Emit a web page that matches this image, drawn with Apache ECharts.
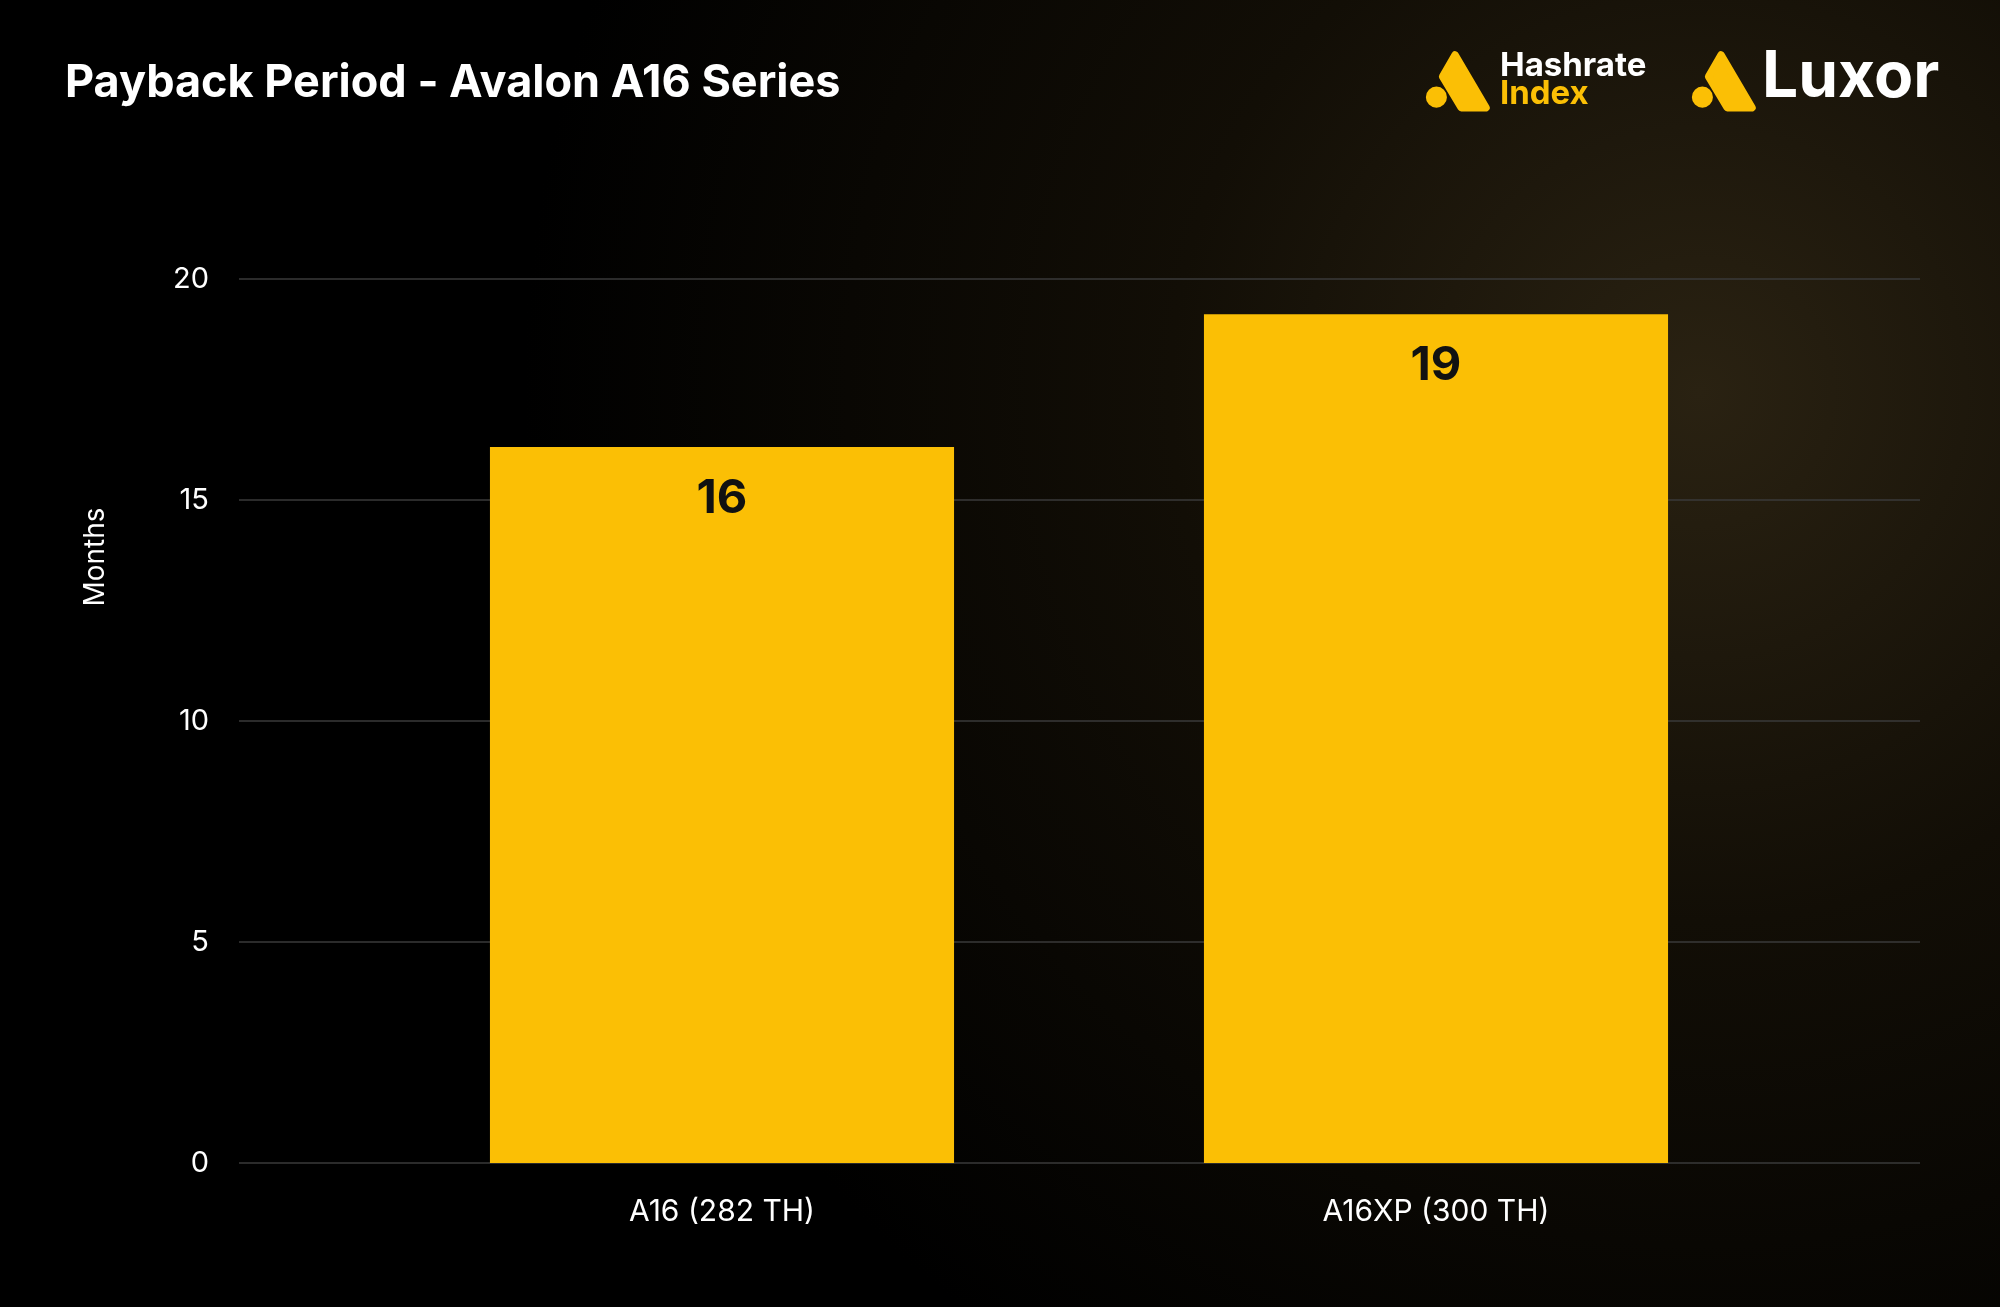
<!DOCTYPE html>
<html><head><meta charset="utf-8">
<script src="https://cdn.jsdelivr.net/npm/echarts@6/dist/echarts.min.js"></script>
<style>html,body{margin:0;padding:0;background:#000}#c{width:2000px;height:1307px}</style>
</head><body><div id="c"></div>
<script>
const categories = ['A16 (282 TH)', 'A16XP (300 TH)'];
const months = [16.2, 19.2];
const yTicks = [0, 5, 10, 15, 20];

const chart = echarts.init(document.getElementById('c'));
const Y = '#FBBF05';
function tri(x, y, s, color) {
  return [
    {type:'polygon', shape:{points:[[x+s*0.5,y],[x+s,y+s*0.85],[x+s*0.6,y+s*0.85],[x+s*0.3,y+s*0.35]]}, style:{fill:color, lineJoin:'round', stroke:color, lineWidth:s*0.12}},
    {type:'circle', shape:{cx:x+s*0.2, cy:y+s*0.68, r:s*0.17}, style:{fill:color}}
  ];
}
chart.setOption({
  backgroundColor: {
    type:'radial', x:0.85, y:0.3, r:0.9,
    colorStops:[{offset:0,color:'#2a2212'},{offset:0.45,color:'#120e06'},{offset:1,color:'#000000'}]
  },
  title: {
    text:'Payback Period - Avalon A16 Series', left:60, top:56,
    textStyle:{color:'#fff', fontSize:45, fontWeight:'bold', fontFamily:'Inter'}
  },
  graphic: [
    ...tri(1424, 55, 62, Y),
    {type:'text', left:1500, top:50, style:{text:'Hashrate', fill:'#fff', font:'bold 33px Inter'}},
    {type:'text', left:1500, top:78, style:{text:'Index', fill:Y, font:'bold 33px Inter'}},
    ...tri(1690, 55, 62, Y),
    {type:'text', left:1762, top:46, style:{text:'Luxor', fill:'#fff', font:'bold 64px Inter'}},
    {type:'text', x:96, y:557, rotation:Math.PI/2, style:{text:'Months', fill:'#fff', font:'28px Inter', align:'center', verticalAlign:'middle'}}
  ],
  grid: [
    {left:239, right:80, top:279, bottom:144},
    {left:365, right:207, top:279, bottom:144}
  ],
  xAxis: [
    {type:'category', gridIndex:0, data:categories, show:false},
    {type:'category', gridIndex:1, data:categories,
     axisLine:{show:false}, axisTick:{show:false},
     axisLabel:{color:'#fff', fontSize:30, fontFamily:'Inter', margin:34}}
  ],
  yAxis: [
    {type:'value', gridIndex:0, min:0, max:20, interval:5,
     axisLabel:{color:'#fff', fontSize:29, fontFamily:'Inter', margin:30,
       formatter:v => yTicks.includes(v) ? String(v) : ''},
     splitLine:{lineStyle:{color:'#3a3a3a', width:1.5}}},
    {type:'value', gridIndex:1, min:0, max:20, interval:5, show:false, splitLine:{show:false}}
  ],
  series: [{
    type:'bar', xAxisIndex:1, yAxisIndex:1, data:months, barWidth:'65%',
    itemStyle:{color:Y},
    label:{show:true, position:'insideTop', distance:28, color:'#111',
      fontSize:47, fontWeight:'bold', fontFamily:'Inter',
      formatter:p => Math.round(p.value)}
  }]
});
</script></body></html>
